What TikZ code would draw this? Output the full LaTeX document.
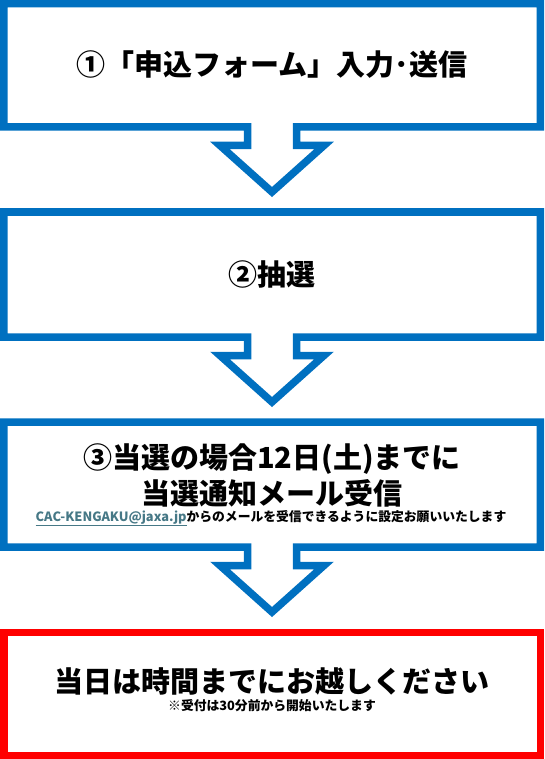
\documentclass[tikz,border=0pt]{standalone}
\usepackage{fontspec}
\setmainfont{Noto Sans CJK JP}
\usepackage{xcolor}
\usepackage{tikz}
\usetikzlibrary{positioning}
\definecolor{flowblue}{HTML}{0070C0}
\definecolor{flowred}{HTML}{FF0000}
\definecolor{linkteal}{HTML}{467886}
\tikzset{
  frame/.style    ={line width=7.5pt, line join=miter, miter limit=10},
  stepframe/.style={frame, draw=flowblue, fill=white},
  goalframe/.style={frame, draw=flowred, fill=white},
  headtext/.style ={inner sep=0pt, align=center,
                    font=\bfseries\fontsize{29}{36}\selectfont},
  notetext/.style ={inner sep=0pt, font=\bfseries\fontsize{12.8}{15}\selectfont},
}
% box outline with the down arrow hanging from its bottom edge
\newcommand{\stepcallout}[2]{%
  \draw[stepframe] (3.75,#1) -- (540.25,#1) -- (540.25,#2)
    -- (296.5,#2) -- (296.5,{#2+18.5}) -- (324,{#2+18.5})
    -- (272,{#2+65}) -- (220,{#2+18.5}) -- (247.5,{#2+18.5})
    -- (247.5,#2) -- (3.75,#2) -- cycle;}

\begin{document}
\begin{tikzpicture}[x=1pt,y=-1pt]
\useasboundingbox (0,0) rectangle (544,759);
\foreach \t/\b in {3.75/127, 212/337, 422/547}
  {\stepcallout{\t}{\b}}
\draw[goalframe] (3.75,632.5) rectangle (540.25,755.25);
\node[headtext] (s1) at (272,65)  {①「申込フォーム」入力･送信};
\node[headtext] (s2) at (272,274) {②抽選};
\node[headtext] (s3) at (272,475) {③当選の場合12日(土)までに\\当選通知メール受信};
\node[notetext] (n3) at (271,518)
  {\textcolor{linkteal}{\underline{CAC-KENGAKU@jaxa.jp}}からのメールを受信できるように設定お願いいたします};
\node[headtext] (s4) at (272,681) {当日は時間までにお越しください};
\node[notetext] (n4) at (272,706) {※受付は30分前から開始いたします};
\end{tikzpicture}
\end{document}
